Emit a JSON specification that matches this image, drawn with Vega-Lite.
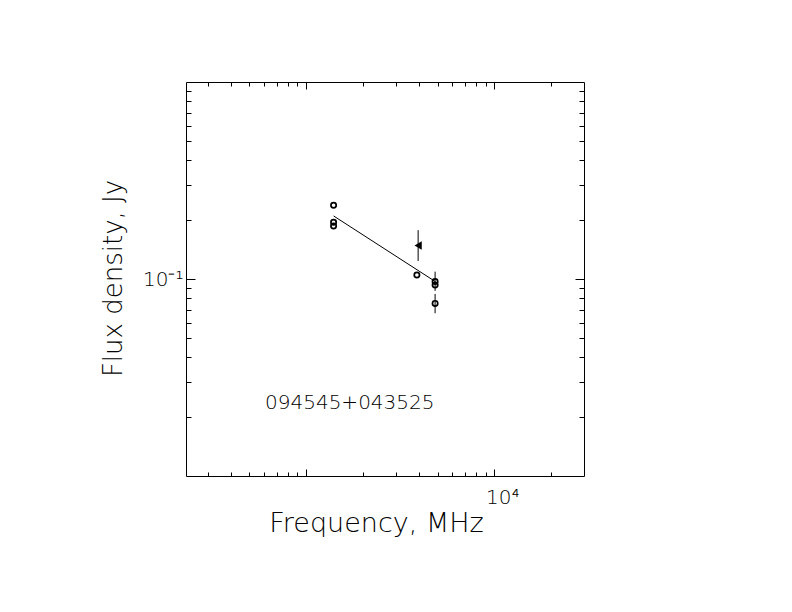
{
  "$schema": "https://vega.github.io/schema/vega-lite/v6.json",
  "width": 398,
  "height": 394,
  "autosize": {"type": "none"},
  "padding": {"left": 186, "top": 82, "right": 208, "bottom": 136},
  "background": "white",
  "view": {"stroke": "black", "strokeWidth": 1},
  "config": {
    "font": "DejaVu Sans",
    "axis": {"grid": false, "domain": false, "tickColor": "black", "tickWidth": 1, "labelColor": "black", "titleColor": "black", "labelOverlap": false, "labelBound": false, "labelFlush": false}
  },
  "datasets": {
    "circles": [
      {"f": 1400, "s": 0.237},
      {"f": 1400, "s": 0.194},
      {"f": 1400, "s": 0.186},
      {"f": 3880, "s": 0.1048},
      {"f": 4850, "s": 0.0971},
      {"f": 4850, "s": 0.0932},
      {"f": 4850, "s": 0.0752}
    ],
    "triangles": [
      {"f": 3940, "s": 0.148}
    ],
    "errors": [
      {"f": 3940, "lo": 0.1235, "hi": 0.177},
      {"f": 4850, "lo": 0.087, "hi": 0.109},
      {"f": 4850, "lo": 0.067, "hi": 0.084}
    ],
    "fit": [
      {"f": 1400, "s": 0.209},
      {"f": 4850, "s": 0.0972}
    ],
    "labels": [
      {"f": 605, "s": 0.02348, "t": "094545+043525"}
    ]
  },
  "resolve": {"axis": {"x": "independent", "y": "independent"}},
  "layer": [
    {
      "data": {"name": "fit"},
      "mark": {"type": "line", "color": "black", "strokeWidth": 1},
      "encoding": {
        "x": {
          "field": "f", "type": "quantitative",
          "scale": {"type": "log", "domain": [230, 30000]},
          "axis": {
            "orient": "bottom",
            "values": [300, 400, 500, 600, 700, 800, 900, 1000, 2000, 3000, 4000, 5000, 6000, 7000, 8000, 9000, 10000, 20000],
            "tickSize": {"condition": {"test": "datum.value == 1000 || datum.value == 10000", "value": -7}, "value": -4},
            "labelExpr": "datum.value == 10000 ? '10⁴' : ''",
            "labelFontSize": 20,
            "labelFontWeight": 200,
            "labelPadding": 18,
            "labelOffset": 8,
            "title": "Frequency, MHz",
            "titleFontSize": 27,
            "titleFontWeight": 200,
            "titleX": 190,
            "titleY": 55,
            "titleBaseline": "alphabetic",
            "titleAlign": "center"
          }
        },
        "y": {
          "field": "s", "type": "quantitative",
          "scale": {"type": "log", "domain": [0.01, 1]},
          "axis": {
            "orient": "left",
            "values": [0.02, 0.03, 0.04, 0.05, 0.06, 0.07, 0.08, 0.09, 0.1, 0.2, 0.3, 0.4, 0.5, 0.6, 0.7, 0.8, 0.9],
            "tickSize": {"condition": {"test": "datum.value == 0.1", "value": -9}, "value": -5},
            "labelExpr": "datum.value == 0.1 ? '10⁻¹' : ''",
            "labelFontSize": 20,
            "labelFontWeight": 200,
            "labelPadding": 12,
            "title": "Flux density, Jy",
            "titleFontSize": 26,
            "titleFontWeight": 200,
            "titleX": -65,
            "titleY": 196,
            "titleBaseline": "alphabetic",
            "titleAlign": "center",
            "titleAngle": 270
          }
        }
      }
    },
    {
      "data": {"name": "circles"},
      "mark": {"type": "point", "shape": "circle", "filled": false, "color": "black", "strokeWidth": 1.7, "size": 28, "opacity": 1},
      "encoding": {
        "x": {
          "field": "f", "type": "quantitative",
          "scale": {"type": "log", "domain": [230, 30000]},
          "axis": {
            "orient": "top",
            "values": [300, 400, 500, 600, 700, 800, 900, 1000, 2000, 3000, 4000, 5000, 6000, 7000, 8000, 9000, 10000, 20000],
            "tickSize": {"condition": {"test": "datum.value == 1000 || datum.value == 10000", "value": -7}, "value": -4},
            "labels": false,
            "title": null
          }
        },
        "y": {
          "field": "s", "type": "quantitative",
          "scale": {"type": "log", "domain": [0.01, 1]},
          "axis": {
            "orient": "right",
            "values": [0.02, 0.03, 0.04, 0.05, 0.06, 0.07, 0.08, 0.09, 0.1, 0.2, 0.3, 0.4, 0.5, 0.6, 0.7, 0.8, 0.9],
            "tickSize": {"condition": {"test": "datum.value == 0.1", "value": -9}, "value": -5},
            "labels": false,
            "title": null
          }
        }
      }
    },
    {
      "data": {"name": "errors"},
      "mark": {"type": "rule", "color": "black", "strokeWidth": 1},
      "encoding": {
        "x": {"field": "f", "type": "quantitative", "scale": {"type": "log", "domain": [230, 30000]}, "axis": null},
        "y": {"field": "lo", "type": "quantitative", "scale": {"type": "log", "domain": [0.01, 1]}, "axis": null},
        "y2": {"field": "hi"}
      }
    },
    {
      "data": {"name": "triangles"},
      "mark": {"type": "point", "shape": "triangle-left", "filled": true, "color": "black", "size": 70, "opacity": 1},
      "encoding": {
        "x": {"field": "f", "type": "quantitative", "scale": {"type": "log", "domain": [230, 30000]}, "axis": null},
        "y": {"field": "s", "type": "quantitative", "scale": {"type": "log", "domain": [0.01, 1]}, "axis": null}
      }
    },
    {
      "data": {"name": "labels"},
      "mark": {"type": "text", "font": "DejaVu Sans", "fontSize": 20, "fontWeight": 200, "align": "left", "baseline": "middle", "color": "black"},
      "encoding": {
        "x": {"field": "f", "type": "quantitative", "scale": {"type": "log", "domain": [230, 30000]}, "axis": null},
        "y": {"field": "s", "type": "quantitative", "scale": {"type": "log", "domain": [0.01, 1]}, "axis": null},
        "text": {"field": "t"}
      }
    }
  ]
}
